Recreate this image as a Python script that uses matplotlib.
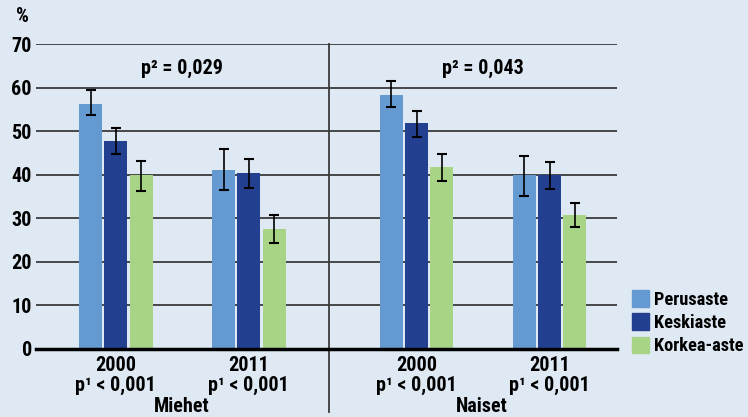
import numpy as np
import matplotlib
matplotlib.use("Agg")
import matplotlib.pyplot as plt
from matplotlib.patches import Patch
from matplotlib import font_manager

# pick a narrow font if one is installed
names = set(f.name for f in font_manager.fontManager.ttflist)
narrow = [n for n in ['Liberation Sans Narrow', 'DejaVu Sans Condensed',
                      'Roboto Condensed', 'Open Sans Condensed',
                      'Noto Sans Condensed', 'Arial Narrow'] if n in names]
if narrow:
    family = narrow[0]
    fs = 14.5
    lfs = 13.2
else:
    family = 'Liberation Sans'
    fs = 11.5
    lfs = 10.5
plt.rcParams['font.family'] = [family, 'DejaVu Sans']
plt.rcParams['font.weight'] = 'bold'

# data (percent)
levels = ["Perusaste", "Keskiaste", "Korkea-aste"]
years = ["2000", "2011", "2000", "2011"]
groups = ["Miehet", "Naiset"]
p1_labels = ["p¹ < 0,001", "p¹ < 0,001", "p¹ < 0,001", "p¹ < 0,001"]
p2_labels = ["p² = 0,029", "p² = 0,043"]

perusaste = [56.4, 41.1, 58.5, 40.0]
perusaste_lo = [53.7, 36.5, 55.6, 35.2]
perusaste_hi = [59.6, 46.0, 61.6, 44.4]

keskiaste = [47.7, 40.4, 51.9, 40.0]
keskiaste_lo = [44.8, 37.0, 48.7, 36.7]
keskiaste_hi = [50.8, 43.7, 54.7, 43.0]

korkea = [40.1, 27.5, 41.8, 30.8]
korkea_lo = [36.3, 24.4, 38.6, 28.1]
korkea_hi = [43.2, 30.8, 44.8, 33.6]

colors = ["#6499d2", "#233f8f", "#a8d486"]
bg = "#dfe9f3"

fig = plt.figure(figsize=(7.48, 4.17), dpi=100, facecolor=bg)
ax = fig.add_axes([0.0481, 0.1631, 0.7768, 0.7302])
ax.set_facecolor(bg)

x = np.array([0, 1, 2.26, 3.26])
width = 0.173
step = 0.19

series = [(perusaste, perusaste_lo, perusaste_hi),
          (keskiaste, keskiaste_lo, keskiaste_hi),
          (korkea, korkea_lo, korkea_hi)]

for i, (vals, lo, hi) in enumerate(series):
    vals = np.array(vals)
    xs = x + (i - 1) * step
    ax.bar(xs, vals, width, color=colors[i], zorder=3)
    yerr = [vals - np.array(lo), np.array(hi) - vals]
    ax.errorbar(xs, vals, yerr=yerr, fmt="none", ecolor="black",
                elinewidth=1.2, capsize=3.5, capthick=1.5, zorder=4)

ax.set_ylim(0, 70)
ax.set_xlim(-0.6, 3.767)
ax.set_yticks(range(0, 71, 10))
for y in range(10, 71, 10):
    ax.axhline(y, color="#3a3a3a", lw=1.3, zorder=1)
ax.axhline(0, color="black", lw=2.5, zorder=5, clip_on=False)

# divider between Miehet and Naiset
ax.axvline(1.6, ymin=-0.207, ymax=1, color="#3a3a3a", lw=1.3,
           clip_on=False, zorder=2)

for s in ax.spines.values():
    s.set_visible(False)
ax.tick_params(axis="y", length=0, labelsize=fs, pad=3)
ax.tick_params(axis="x", length=0, labelsize=fs, pad=5)
ax.set_xticks(x)
ax.set_xticklabels([f"{yr}\n{p}" for yr, p in zip(years, p1_labels)],
                   linespacing=1.05)

ax.text(0.5, 64.5, p2_labels[0], ha="center", va="center", fontsize=fs)
ax.text(2.76, 64.5, p2_labels[1], ha="center", va="center", fontsize=fs)

fig.text(22 / 748, 1 - 17 / 417, "%", ha="center", va="center",
         fontsize=fs)
fig.text(182 / 748, 1 - 407 / 417, groups[0], ha="center", va="center",
         fontsize=fs)
fig.text(482 / 748, 1 - 407 / 417, groups[1], ha="center", va="center",
         fontsize=fs)

handles = [Patch(color=c) for c in colors]
fig.legend(handles, levels, loc="lower left",
           bbox_to_anchor=(632 / 748, 1 - 355 / 417), frameon=False,
           fontsize=lfs, handlelength=0.95, handleheight=1.0,
           handletextpad=0.25, labelspacing=0.25, borderpad=0,
           borderaxespad=0)

fig.savefig("out.png", dpi=100, facecolor=bg)
